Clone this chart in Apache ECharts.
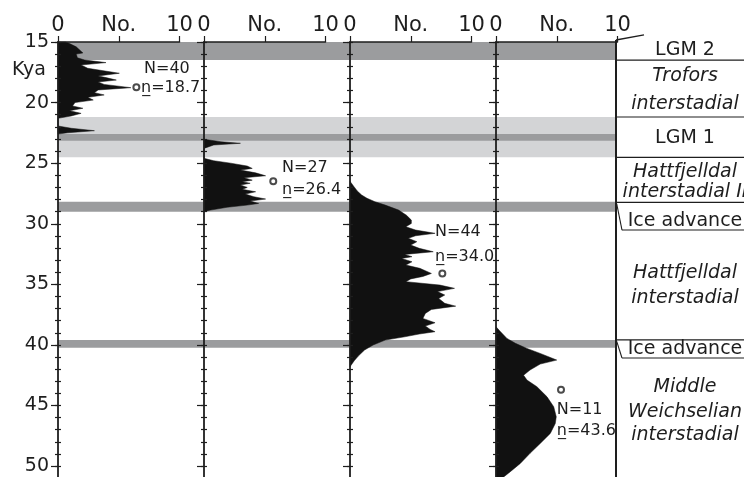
<!DOCTYPE html>
<html><head><meta charset="utf-8">
<script src="https://cdn.jsdelivr.net/npm/echarts@6/dist/echarts.min.js"></script>
<style>html,body{margin:0;padding:0;background:#fff}#c{width:744px;height:477px}</style>
</head><body><div id="c"></div>
<script>
// ---- data (age in kyr, count) ----
const ageTicks = [15, 20, 25, 30, 35, 40, 45, 50];
const kyaLabelAt = 17.3;
const countTicks = [0, 5, 10];
const countLabels = [0, 10];

const panel1 = [[15.0,0.6],[15.1,0.9],[15.4,1.5],[15.9,2.05],[16.0,1.5],[16.3,1.6],[16.49,2.2],[16.7,3.95],[16.9,1.9],[17.17,2.45],[17.58,5.05],[17.8,3.3],[17.94,3.95],[18.14,4.8],[18.3,3.3],[18.5,3.8],[18.77,6.0],[18.96,3.3],[19.18,3.0],[19.37,3.8],[19.57,2.45],[19.79,2.9],[20.0,1.4],[20.28,1.2],[20.47,2.05],[20.67,0.95],[20.89,1.9],[21.1,1.1],[21.3,0],[21.93,0],[22.12,1.1],[22.32,3.0],[22.49,0.8],[22.6,0]];
const panel2 = [[23.03,0],[23.23,1.4],[23.36,3.0],[23.5,0.8],[23.78,0],[24.6,0],[24.8,0.8],[25.0,2.2],[25.24,3.56],[25.43,3.97],[25.57,3.0],[25.8,4.25],[26.04,5.07],[26.2,3.3],[26.4,3.97],[26.53,3.15],[26.66,3.8],[26.8,3.0],[27.0,3.56],[27.16,3.15],[27.36,4.25],[27.55,3.4],[27.77,4.1],[27.96,5.07],[28.13,3.8],[28.32,4.5],[28.46,3.56],[28.64,1.9],[28.87,0.55],[29.0,0]];
const panel3 = [[26.5,0],[26.9,0.3],[27.3,0.6],[27.63,0.96],[27.9,1.4],[28.18,2.05],[28.46,2.9],[28.87,4.0],[29.3,4.65],[29.7,5.05],[29.97,5.05],[30.25,4.6],[30.52,5.4],[30.79,7.0],[30.99,5.4],[31.2,4.8],[31.48,5.5],[31.76,5.0],[32.03,5.7],[32.31,6.85],[32.53,4.5],[32.72,5.1],[32.86,4.25],[33.14,5.1],[33.41,4.6],[33.68,5.75],[34.1,6.7],[34.35,6.0],[34.55,5.0],[34.78,4.6],[35.06,7.4],[35.33,8.6],[35.6,7.2],[35.88,7.8],[36.16,7.3],[36.57,7.8],[36.8,8.7],[37.07,6.7],[37.4,6.2],[37.81,6.0],[38.17,7.0],[38.44,6.2],[38.72,6.6],[38.91,7.0],[39.1,5.7],[39.33,4.5],[39.6,2.9],[40.01,1.9],[40.42,1.2],[40.9,0.7],[41.3,0.35],[41.8,0]];
const panel4 = [[38.5,0],[38.9,0.36],[39.46,0.9],[39.87,1.6],[40.29,2.55],[40.7,3.64],[41.25,5.0],[41.58,3.64],[42.07,2.8],[42.5,2.27],[42.9,2.55],[43.45,3.37],[44.28,4.2],[45.1,4.75],[45.93,4.96],[46.48,4.88],[47.3,4.47],[48.13,3.64],[48.95,2.8],[49.78,2.0],[50.46,1.18],[50.9,0.63]];
const panels = [panel1, panel2, panel3, panel4];

const meanPoints = [[6.45,18.74],[5.7,26.5],[7.6,34.1],[5.35,43.7]];   // [count, age]
const sampleSizes = ['N=40','N=27','N=44','N=11'];
const meanTexts = ['n\u0332=18.7','n\u0332=26.4','n\u0332=34.0','n\u0332=43.6'];

const bands = [[15,16.49,'dark'],[21.19,24.52,'light'],[22.59,23.15,'dark'],[28.18,29.0,'dark'],[39.59,40.23,'dark']];
const stageBoundaries = [16.49, 21.19, 24.52, 28.23, 39.59];
const iceBoxes = [[28.23, 30.52], [39.59, 41.08]];
const stageNames = ['LGM 2','Trofors','interstadial','LGM 1','Hattfjelldal','interstadial II','Ice advance','Hattfjelldal','interstadial','Ice advance','Middle','Weichselian','interstadial'];
const stageAges  = [15.66, 17.81, 20.12, 22.92, 25.73, 27.38, 29.75, 34.07, 36.13, 40.38, 43.45, 45.52, 47.44];
const stageItalic = [false,true,true,false,true,true,false,true,true,false,true,true,true];

// ---- layout (not data) ----
const FONT = '"DejaVu Sans"';
const INK = '#1e1e1e';
const panelLeft = [58, 204, 350, 496];
const panelW = 121.5, TOP = 42, H = 435;
const YMIN = 15, YMAX = 50.9;
const nAnchor = [[7.08,17.23],[6.42,25.4],[7.0,30.66],[5.0,45.38]];
const mAnchor = [[6.83,18.8],[6.42,27.22],[7.0,32.72],[5.0,47.09]];
const minorTicks = []; for (let a = YMIN; a <= 50; a++) minorTicks.push(a);

const grids = [], xAxes = [], yAxes = [], series = [];
const tickStyle = {color: INK, width: 1.2};
const gridBase = {top: TOP, height: H, outerBoundsMode: 'none', containLabel: false};

panels.forEach((pts, g) => {
  grids.push(Object.assign({}, gridBase, {left: panelLeft[g], width: panelW}));
  xAxes.push({
    type: 'value', gridIndex: g, position: 'top', min: 0, max: 10, interval: 5, z: 5,
    axisLine: {show: true, onZero: false, lineStyle: {color: INK, width: 1.5}},
    axisTick: {show: true, length: 6, customValues: countTicks, lineStyle: tickStyle},
    axisLabel: {show: true, customValues: countLabels, fontSize: 21, fontFamily: FONT, color: INK, margin: 6},
    splitLine: {show: false},
    name: 'No.', nameLocation: 'middle', nameGap: 6, nameMoveOverlap: false,
    nameTextStyle: {fontSize: 21, fontFamily: FONT, color: INK, verticalAlign: 'bottom'}
  });
  const base = {type: 'value', gridIndex: g, inverse: true, min: YMIN, max: YMAX, position: 'left', offset: 0, z: 5, splitLine: {show: false}};
  yAxes.push(Object.assign({}, base, {
    axisLine: {show: true, onZero: false, lineStyle: {color: INK, width: 1.8}},
    axisTick: {show: true, length: 3, customValues: minorTicks, lineStyle: tickStyle},
    axisLabel: g === 0 ? {
      show: true, customValues: [15, kyaLabelAt].concat(ageTicks.slice(1)),
      formatter: v => Math.abs(v - kyaLabelAt) < 0.01 ? '{k|Kya}' : String(v),
      rich: {k: {fontSize: 19, fontFamily: FONT, color: INK, padding: [0, 3, 0, 0]}},
      fontSize: 19, fontFamily: FONT, color: INK, margin: 9
    } : {show: false}
  }));
  yAxes.push(Object.assign({}, base, {
    axisLine: {show: false}, axisLabel: {show: false},
    axisTick: {show: true, inside: true, length: 3, customValues: minorTicks, lineStyle: tickStyle}
  }));
  yAxes.push(Object.assign({}, base, {
    axisLine: {show: false}, axisLabel: {show: false},
    axisTick: {show: true, length: 7, customValues: ageTicks, lineStyle: tickStyle}
  }));

  // filled distribution
  series.push({
    type: 'custom', xAxisIndex: g, yAxisIndex: 3 * g, z: 3, silent: true,
    data: pts.map(p => [p[1], p[0]]), encode: {x: 0, y: 1},
    renderItem: (params, api) => {
      if (params.dataIndex !== 0) return null;
      const poly = [api.coord([0, pts[0][0]])];
      pts.forEach(p => poly.push(api.coord([p[1], p[0]])));
      poly.push(api.coord([0, pts[pts.length - 1][0]]));
      return {type: 'polygon', shape: {points: poly}, style: {fill: '#111', stroke: '#111', lineWidth: 0.5}};
    }
  });
  // mean marker
  series.push({
    type: 'scatter', xAxisIndex: g, yAxisIndex: 3 * g, z: 4, silent: true,
    symbol: 'emptyCircle', symbolSize: 6,
    itemStyle: {color: INK, borderWidth: 1},
    data: [meanPoints[g]]
  });
  // annotations
  series.push({
    type: 'custom', xAxisIndex: g, yAxisIndex: 3 * g, z: 4, silent: true,
    data: [nAnchor[g], mAnchor[g]],
    renderItem: (params, api) => {
      const p = api.coord([api.value(0), api.value(1)]);
      return {type: 'text', style: {
        text: params.dataIndex === 0 ? sampleSizes[g] : meanTexts[g],
        x: p[0], y: p[1], textAlign: 'left', textVerticalAlign: 'middle',
        font: '16px ' + FONT, fill: INK}};
    }
  });
});

// band grid
grids.push(Object.assign({}, gridBase, {left: 58, width: 616 - 58}));
xAxes.push({type: 'value', gridIndex: 4, min: 0, max: 1, show: false});
yAxes.push({type: 'value', gridIndex: 4, inverse: true, min: YMIN, max: YMAX, show: false});
series.push({
  type: 'custom', xAxisIndex: 4, yAxisIndex: 12, z: 1, silent: true,
  data: bands.map(b => [0, b[0], 1, b[1]]),
  encode: {x: [0, 2], y: [1, 3]},
  renderItem: (params, api) => {
    const b = bands[params.dataIndex];
    const p1 = api.coord([0, b[0]]), p2 = api.coord([1, b[1]]);
    return {type: 'rect', shape: {x: p1[0], y: p1[1], width: p2[0] - p1[0], height: p2[1] - p1[1]},
      style: {fill: b[2] === 'dark' ? '#9b9c9e' : '#d3d4d6'}};
  }
});

// right stage column
grids.push(Object.assign({}, gridBase, {left: 616, width: 128}));
xAxes.push({type: 'value', gridIndex: 5, min: 0, max: 128, show: false});
yAxes.push({type: 'value', gridIndex: 5, inverse: true, min: YMIN, max: YMAX, show: false});
const segs = [];
segs.push([[0, 14.835], [28, 14.42], 1.3]);
segs.push([[0, 14.835], [0, YMAX], 2]);
stageBoundaries.forEach(b => segs.push([[0, b], [128, b], 1.2]));
iceBoxes.forEach(bx => {
  segs.push([[0.7, bx[0] + 0.12], [6, bx[1]], 1.1]);
  segs.push([[6, bx[1]], [128, bx[1]], 1.1]);
});
series.push({
  type: 'custom', xAxisIndex: 5, yAxisIndex: 13, z: 4, silent: true,
  data: segs.map(s => [s[0][0], s[0][1]]),
  renderItem: (params, api) => {
    const s = segs[params.dataIndex];
    const a = api.coord(s[0]), b = api.coord(s[1]);
    return {type: 'line', shape: {x1: a[0], y1: a[1], x2: b[0], y2: b[1]}, style: {stroke: INK, lineWidth: s[2]}};
  }
});
series.push({
  type: 'custom', xAxisIndex: 5, yAxisIndex: 13, z: 4, silent: true,
  data: stageAges.map(a => [69, a]),
  renderItem: (params, api) => {
    const i = params.dataIndex;
    const p = api.coord([api.value(0), api.value(1)]);
    return {type: 'text', style: {
      text: stageNames[i], x: p[0], y: p[1], textAlign: 'center', textVerticalAlign: 'middle',
      font: (stageItalic[i] ? 'italic ' : '') + '19px ' + FONT, fill: INK}};
  }
});

const chart = echarts.init(document.getElementById('c'), null, {renderer: 'canvas'});
chart.setOption({animation: false, grid: grids, xAxis: xAxes, yAxis: yAxes, series: series});
</script></body></html>
